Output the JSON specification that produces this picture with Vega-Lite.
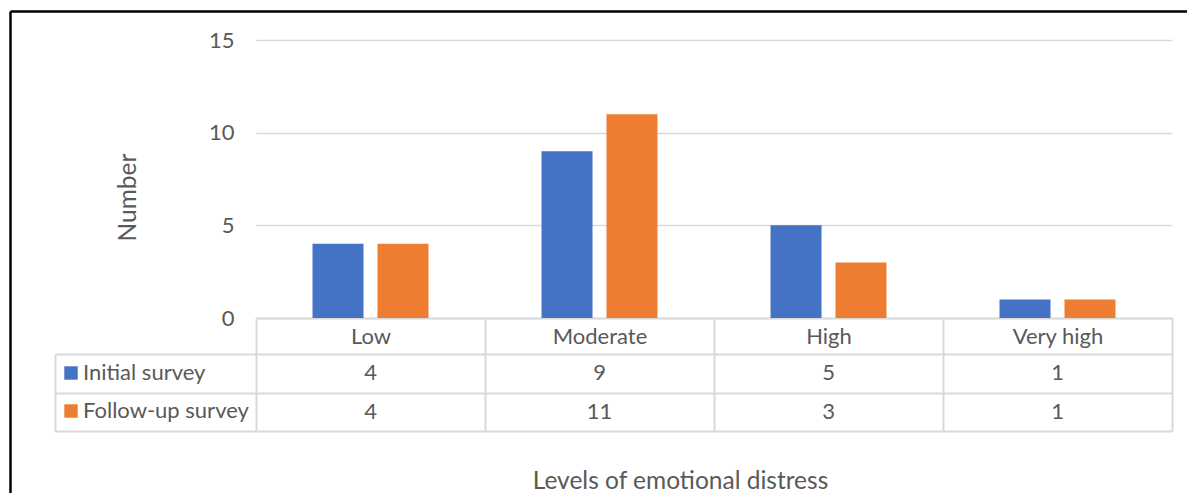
{
  "$schema": "https://vega.github.io/schema/vega-lite/v6.json",
  "width": 916,
  "height": 278,
  "autosize": {"type": "none"},
  "padding": {"left": 256, "top": 40, "right": 15, "bottom": 175},
  "background": "white",
  "config": {
    "view": {"stroke": null},
    "font": "Lato",
    "text": {"font": "Lato"}
  },
  "data": {
    "values": [
      {"level": "Low", "survey": "Initial survey", "number": 4},
      {"level": "Moderate", "survey": "Initial survey", "number": 9},
      {"level": "High", "survey": "Initial survey", "number": 5},
      {"level": "Very high", "survey": "Initial survey", "number": 1},
      {"level": "Low", "survey": "Follow-up survey", "number": 4},
      {"level": "Moderate", "survey": "Follow-up survey", "number": 11},
      {"level": "High", "survey": "Follow-up survey", "number": 3},
      {"level": "Very high", "survey": "Follow-up survey", "number": 1}
    ]
  },
  "layer": [
    {
      "encoding": {
        "x": {
          "field": "level",
          "type": "nominal",
          "sort": ["Low", "Moderate", "High", "Very high"],
          "scale": {"paddingInner": 0, "paddingOuter": 0},
          "axis": {
            "title": "Levels of emotional distress",
            "labelAngle": 0,
            "domain": true,
            "domainColor": "#d9d9d9",
            "domainWidth": 2,
            "ticks": true,
            "tickBand": "extent",
            "tickSize": 113,
            "tickColor": "#d9d9d9",
            "tickWidth": 2,
            "grid": false,
            "labelFontSize": 22,
            "labelColor": "#595959",
            "labelBaseline": "middle",
            "labelPadding": -95,
            "titleFontSize": 24.5,
            "titleFontWeight": "normal",
            "titleColor": "#595959",
            "titleX": 424,
            "titleY": 163,
            "titleAlign": "center",
            "titleBaseline": "middle"
          }
        }
      },
      "layer": [
        {
          "mark": {"type": "bar"},
          "encoding": {
            "xOffset": {
              "field": "survey",
              "type": "nominal",
              "sort": ["Initial survey", "Follow-up survey"],
              "scale": {"paddingInner": 0.215, "paddingOuter": 0.87}
            },
            "y": {
              "field": "number",
              "type": "quantitative",
              "scale": {"domain": [0, 15], "nice": false},
              "axis": {
                "values": [0, 5, 10, 15],
                "domain": false,
                "ticks": false,
                "grid": true,
                "gridColor": "#d9d9d9",
                "gridWidth": 1.5,
                "labelFontSize": 22,
                "labelColor": "#595959",
                "labelPadding": 22,
                "title": "Number",
                "titleFontSize": 24.5,
                "titleFontWeight": "normal",
                "titleColor": "#595959",
                "titleX": -128,
                "titleY": 157,
                "titleAngle": -90,
                "titleAlign": "center",
                "titleBaseline": "middle"
              }
            },
            "color": {
              "field": "survey",
              "type": "nominal",
              "scale": {
                "domain": ["Initial survey", "Follow-up survey"],
                "range": ["#4472C4", "#ED7D31"]
              },
              "legend": {
                "orient": "none",
                "legendX": -196,
                "legendY": 322,
                "title": null,
                "direction": "vertical",
                "symbolType": "square",
                "symbolSize": 180,
                "symbolStrokeWidth": 0,
                "symbolOpacity": 1,
                "labelFontSize": 22,
                "labelColor": "#595959",
                "labelOffset": 1,
                "labelLimit": 0,
                "rowPadding": 16,
                "padding": 0
              }
            }
          }
        },
        {
          "mark": {"type": "text", "fontSize": 22, "color": "#595959", "baseline": "middle"},
          "encoding": {
            "y": {
              "field": "survey",
              "type": "nominal",
              "sort": ["Initial survey", "Follow-up survey"],
              "scale": {"range": [314, 391], "paddingInner": 0, "paddingOuter": 0},
              "axis": {
                "orient": "left",
                "offset": 201,
                "title": null,
                "labels": false,
                "domain": true,
                "domainColor": "#d9d9d9",
                "domainWidth": 2,
                "ticks": true,
                "tickBand": "extent",
                "tickSize": -201,
                "tickColor": "#d9d9d9",
                "tickWidth": 2,
                "grid": true,
                "gridColor": "#d9d9d9",
                "gridWidth": 2
              }
            },
            "text": {"field": "number", "type": "quantitative"}
          }
        }
      ],
      "resolve": {"scale": {"y": "independent"}}
    },
    {
      "mark": {"type": "point", "opacity": 0},
      "encoding": {
        "x": {
          "field": "number",
          "type": "quantitative",
          "scale": {"domain": [0, 11], "range": [-246, 931], "nice": false, "zero": false},
          "axis": {
            "orient": "top",
            "offset": 29,
            "title": null,
            "labels": false,
            "ticks": false,
            "grid": false,
            "domain": true,
            "domainColor": "#000000",
            "domainWidth": 2.5
          }
        },
        "y": {
          "field": "number",
          "type": "quantitative",
          "scale": {"domain": [0, 11], "range": [470, -29], "nice": false, "zero": false},
          "axis": {
            "orient": "left",
            "offset": 246,
            "title": null,
            "labels": false,
            "ticks": false,
            "grid": false,
            "domain": true,
            "domainColor": "#000000",
            "domainWidth": 2.5
          }
        }
      }
    }
  ],
  "resolve": {"scale": {"x": "independent", "y": "independent"}}
}
